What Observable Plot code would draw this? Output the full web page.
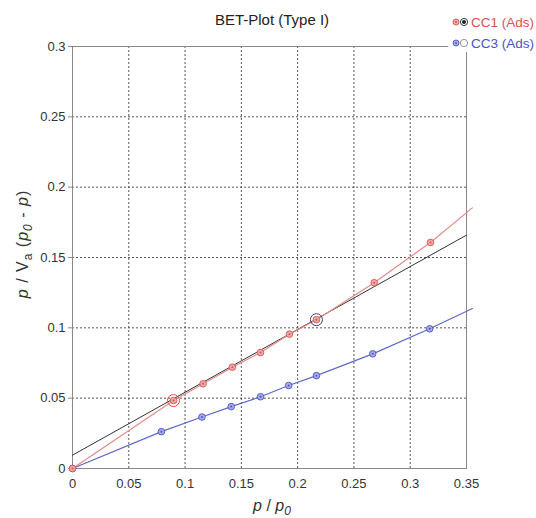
<!DOCTYPE html>
<html>
<head>
<meta charset="utf-8">
<script src="https://cdn.jsdelivr.net/npm/d3@7"></script>
<script src="https://cdn.jsdelivr.net/npm/@observablehq/plot@0.6"></script>
<style>
  html, body { margin: 0; padding: 0; background: #fff; }
  #chart svg { display: block; }
</style>
</head>
<body>
<div id="chart"></div>
<script>
// ---- data ----
const cc1X = [0, 0.0897, 0.116, 0.142, 0.167, 0.1927, 0.2167, 0.268, 0.318];
const cc1Y = [0, 0.0483, 0.0602, 0.072, 0.0824, 0.0955, 0.1058, 0.1321, 0.1607];
const cc3X = [0, 0.079, 0.115, 0.141, 0.167, 0.192, 0.2167, 0.2667, 0.3173];
const cc3Y = [0, 0.0262, 0.0366, 0.044, 0.051, 0.059, 0.066, 0.0815, 0.0993];
// curve ends (lines run slightly past the last points)
const cc1EndX = 0.3552, cc1EndY = 0.1853;
const cc3EndX = 0.3552, cc3EndY = 0.1138;
// BET linear fit for CC1
const fitX = [0, 0.35];
const fitY = [0.0095, 0.1659];
// selected BET range points (rings)
const ringX = [0.0897, 0.2167];
const ringY = [0.0483, 0.1058];
const ringColor = ["#d9534f", "#4a3a6a"];
// ticks
const xTicks = [0, 0.05, 0.1, 0.15, 0.2, 0.25, 0.3, 0.35];
const xTickLabels = ["0", "0.05", "0.1", "0.15", "0.2", "0.25", "0.3", "0.35"];
const yTicks = [0, 0.05, 0.1, 0.15, 0.2, 0.25, 0.3];
const yTickLabels = ["0", "0.05", "0.1", "0.15", "0.2", "0.25", "0.3"];
const seriesNames = ["CC1 (Ads)", "CC3 (Ads)"];
const titleText = "BET-Plot (Type I)";

// ---- tables ----
const cc1 = cc1X.map((x, i) => ({x, y: cc1Y[i]}));
const cc3 = cc3X.map((x, i) => ({x, y: cc3Y[i]}));
const cc1Line = [...cc1, {x: cc1EndX, y: cc1EndY}];
const cc3Line = [...cc3, {x: cc3EndX, y: cc3EndY}];
const fit = fitX.map((x, i) => ({x, y: fitY[i]}));
const rings = ringX.map((x, i) => ({x, y: ringY[i], c: ringColor[i]}));

const RED = "#d9534f", REDLINE = "#e58a8a", BLUE = "#4b53c0", BLUELINE = "#6068c8";

const chart = Plot.plot({
  width: 536,
  height: 518,
  marginLeft: 72,
  marginRight: 70,
  marginTop: 46,
  marginBottom: 50,
  style: {fontFamily: "'Liberation Sans', Arial, sans-serif", fontSize: "13px", color: "#333", background: "#fff"},
  x: {domain: [0, 0.35]},
  y: {domain: [0, 0.3]},
  marks: [
    Plot.gridX(xTicks, {stroke: "#444", strokeOpacity: 0.9, strokeDasharray: "2,2"}),
    Plot.gridY(yTicks, {stroke: "#444", strokeOpacity: 0.9, strokeDasharray: "2,2"}),
    Plot.frame({stroke: "#888"}),
    Plot.axisX(xTicks, {tickSize: 0, tickPadding: 10, tickFormat: (d, i) => xTickLabels[i], label: null, fill: "#333"}),
    Plot.axisY(yTicks, {tickSize: 4, tickPadding: 3, tickFormat: (d, i) => yTickLabels[i], label: null, fill: "#333", stroke: "#888"}),
    Plot.line(fit, {x: "x", y: "y", stroke: "#333", strokeWidth: 1}),
    Plot.line(cc1Line, {x: "x", y: "y", stroke: REDLINE, strokeWidth: 1.2}),
    Plot.line(cc3Line, {x: "x", y: "y", stroke: BLUELINE, strokeWidth: 1.2}),
    Plot.dot(cc3, {x: "x", y: "y", r: 3.3, stroke: BLUE, fill: "#a8acec", strokeWidth: 0.9}),
    Plot.dot(cc3, {x: "x", y: "y", r: 1, fill: BLUE}),
    Plot.dot(cc1, {x: "x", y: "y", r: 3.3, stroke: RED, fill: "#eeaaaa", strokeWidth: 0.9}),
    Plot.dot(cc1, {x: "x", y: "y", r: 1, fill: RED}),
    Plot.dot(rings, {x: "x", y: "y", r: 6, stroke: "c", fill: "none", strokeWidth: 1})
  ]
});

document.getElementById("chart").appendChild(chart);

// ---- texts with sub-/superscripts, title and legend ----
const svg = d3.select(chart);
const font = "'Liberation Sans', Arial, sans-serif";

svg.append("text")
  .attr("x", 272).attr("y", 25)
  .attr("text-anchor", "middle")
  .attr("font-family", font).attr("font-size", 15).attr("fill", "#222")
  .text(titleText);

// x label: p / p0
const xl = svg.append("text")
  .attr("x", 272).attr("y", 511)
  .attr("text-anchor", "middle")
  .attr("font-family", font).attr("font-size", 16).attr("fill", "#333");
xl.append("tspan").attr("font-style", "italic").text("p");
xl.append("tspan").text(" / ");
xl.append("tspan").attr("font-style", "italic").text("p");
xl.append("tspan").attr("font-style", "italic").attr("font-size", 12).attr("dy", 4).text("0");

// y label: p / Va (p0 - p)
const yl = svg.append("text")
  .attr("transform", "translate(28,244) rotate(-90)")
  .attr("text-anchor", "middle")
  .attr("letter-spacing", 1)
  .attr("font-family", font).attr("font-size", 16).attr("fill", "#333");
yl.append("tspan").attr("font-style", "italic").text("p");
yl.append("tspan").text(" / V");
yl.append("tspan").attr("font-size", 12).attr("dy", 4).text("a");
yl.append("tspan").attr("dy", -4).text(" (");
yl.append("tspan").attr("font-style", "italic").text("p");
yl.append("tspan").attr("font-style", "italic").attr("font-size", 12).attr("dy", 4).text("0");
yl.append("tspan").attr("dy", -4).text(" - ");
yl.append("tspan").attr("font-style", "italic").text("p");
yl.append("tspan").text(")");

// legend
svg.append("rect").attr("x", 448).attr("y", 6).attr("width", 88).attr("height", 46).attr("fill", "#fff");
const leg = [
  {name: seriesNames[0], c: RED, fill: "#eeaaaa", y: 27, sel: "#222", selFill: true},
  {name: seriesNames[1], c: BLUE, fill: "#a8acec", y: 48, sel: "#888", selFill: false}
];
leg.forEach(l => {
  const g = svg.append("g");
  const cy = l.y - 5;
  g.append("circle").attr("cx", 456).attr("cy", cy).attr("r", 3).attr("stroke", l.c).attr("fill", l.fill).attr("stroke-width", 0.9);
  g.append("circle").attr("cx", 456).attr("cy", cy).attr("r", 0.9).attr("fill", l.c);
  g.append("circle").attr("cx", 464).attr("cy", cy).attr("r", 3.6).attr("stroke", l.sel).attr("fill", "#fff").attr("stroke-width", 0.9);
  if (l.selFill) g.append("circle").attr("cx", 464).attr("cy", cy).attr("r", 2).attr("fill", l.sel);
  g.append("text").attr("x", 471).attr("y", l.y)
    .attr("text-anchor", "start")
    .attr("font-family", font).attr("font-size", 13.5).attr("fill", l.c).text(l.name);
});
</script>
</body>
</html>
